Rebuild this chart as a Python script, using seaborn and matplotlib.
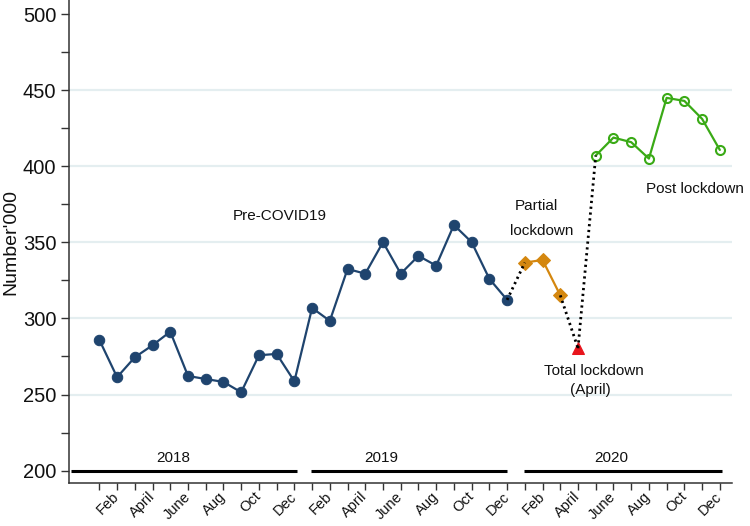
import numpy as np
import pandas as pd
import matplotlib
matplotlib.use("Agg")
import matplotlib.pyplot as plt
import seaborn as sns

# ---------------- data ----------------
month_names = ["Jan", "Feb", "Mar", "April", "May", "June",
               "July", "Aug", "Sep", "Oct", "Nov", "Dec"]
years = ["2018", "2019", "2020"]
y_ticks = [200, 250, 300, 350, 400, 450, 500]

pre_covid = [285.9, 261.4, 274.5, 282.4, 291.3, 262.2, 260.2, 258.3, 251.5, 275.8, 276.7, 258.7,
             306.9, 298.4, 332.5, 329.4, 350.1, 329.4, 341.1, 334.7, 361.4, 350.1, 326.0, 312.2]
partial_lockdown = [336.7, 338.4, 315.2]
total_lockdown = [280.4]
post_lockdown = [407.0, 418.8, 415.8, 405.0, 444.9, 442.9, 431.1, 410.7]

labels_text = ["Pre-COVID19", "Partial", "lockdown", "Post lockdown", "Total lockdown", "(April)"]

# ---------------- frames ----------------
all_vals = pre_covid + partial_lockdown + total_lockdown + post_lockdown
n = len(all_vals)
idx = np.arange(n)
phase = (["pre"] * len(pre_covid) + ["partial"] * len(partial_lockdown)
         + ["total"] * len(total_lockdown) + ["post"] * len(post_lockdown))
df = pd.DataFrame({"t": idx, "value": all_vals, "phase": phase})

sns.set_theme(style="white")
plt.rcParams["font.family"] = ["Liberation Sans", "DejaVu Sans"]

fig = plt.figure(figsize=(7.5, 5.26), dpi=100)
ax = fig.add_axes([0.0916, 0.0812, 0.884, 0.9188])

# grid lines
for g in y_ticks[1:-1]:
    ax.axhline(g, color="#e4eef0", lw=1.6, zorder=0)

navy = "#1f446e"
orange = "#d4870f"
green = "#3aaa16"
red = "#e8141c"

d_pre = df[df.phase == "pre"]
d_par = df[df.phase == "partial"]
d_tot = df[df.phase == "total"]
d_post = df[df.phase == "post"]

sns.lineplot(data=d_pre, x="t", y="value", ax=ax, color=navy, lw=1.6,
             marker="o", markersize=7.5, markeredgecolor=navy, zorder=3)
sns.lineplot(data=d_par, x="t", y="value", ax=ax, color=orange, lw=1.6,
             marker="D", markersize=7.5, markeredgecolor=orange, zorder=3)
sns.lineplot(data=d_tot, x="t", y="value", ax=ax, color=red, lw=1.6,
             marker="^", markersize=8, markeredgecolor=red, zorder=3)
sns.lineplot(data=d_post, x="t", y="value", ax=ax, color=green, lw=1.6,
             marker="o", markersize=6.5, markerfacecolor="none",
             markeredgecolor=green, markeredgewidth=1.5, zorder=3)

# dotted connectors between phases
conn_pairs = [(len(pre_covid) - 1, len(pre_covid)),
              (len(pre_covid) + len(partial_lockdown) - 1, len(pre_covid) + len(partial_lockdown)),
              (len(pre_covid) + len(partial_lockdown), len(pre_covid) + len(partial_lockdown) + 1)]
for a, b in conn_pairs:
    seg = df.iloc[[a, b]]
    sns.lineplot(data=seg, x="t", y="value", ax=ax, color="black", lw=2.0,
                 linestyle=(0, (0.8, 1.3)), zorder=4)

# year bars at the bottom
year_spans = [(-1.6, 11.13), (11.92, 22.98), (23.93, 35.1)]
for (x0, x1) in year_spans:
    ax.plot([x0, x1], [200, 200], color="black", lw=2.2, solid_capstyle="butt", zorder=2)
year_label_x = [4.18, 15.92, 28.87]
for yl, xx in zip(years, year_label_x):
    ax.text(xx, 208.1, yl, ha="center", va="center", fontsize=11, color="#111111")

# annotations
ax.text(10.17, 367.3, labels_text[0], ha="center", va="center", fontsize=11, color="#111111")
ax.text(24.65, 373.9, labels_text[1], ha="center", va="center", fontsize=11, color="#111111")
ax.text(24.93, 357.5, labels_text[2], ha="center", va="center", fontsize=11, color="#111111")
ax.text(33.6, 384.9, labels_text[3], ha="center", va="center", fontsize=11, color="#111111")
ax.text(27.87, 265.7, labels_text[4], ha="center", va="center", fontsize=11, color="#111111")
ax.text(27.7, 253.0, labels_text[5], ha="center", va="center", fontsize=11, color="#111111")

# axes limits & ticks
ax.set_xlim(-1.73, 35.67)
ax.set_ylim(191.7, 509.2)

ax.set_yticks(y_ticks)
ax.set_yticklabels([str(v) for v in y_ticks], fontsize=14.5, color="#111111")
ax.set_yticks([225, 275, 325, 375, 425, 475], minor=True)
ax.tick_params(axis="y", which="both", direction="out", length=5.8, width=1,
               color="#333333", left=True, pad=3)

xt = np.arange(36)
xlabels = [month_names[i % 12] if (i % 12) % 2 == 1 else "" for i in xt]
ax.set_xticks(xt)
ax.set_xticklabels(xlabels, rotation=45, ha="right", va="center",
                   rotation_mode="anchor", fontsize=10.5, color="#111111")
ax.tick_params(axis="x", which="both", direction="out", length=5, width=1,
               color="#333333", bottom=True, pad=3)

ax.set_xlabel("")
ax.set_ylabel("Number'000", fontsize=14, color="#111111")
ax.yaxis.set_label_coords(-0.074, 0.5)

for s in ["top", "right"]:
    ax.spines[s].set_visible(False)
for s in ["left", "bottom"]:
    ax.spines[s].set_color("#333333")
    ax.spines[s].set_linewidth(1.1)

ax.set_facecolor("white")
fig.patch.set_facecolor("white")

fig.savefig("out.png", dpi=100)
